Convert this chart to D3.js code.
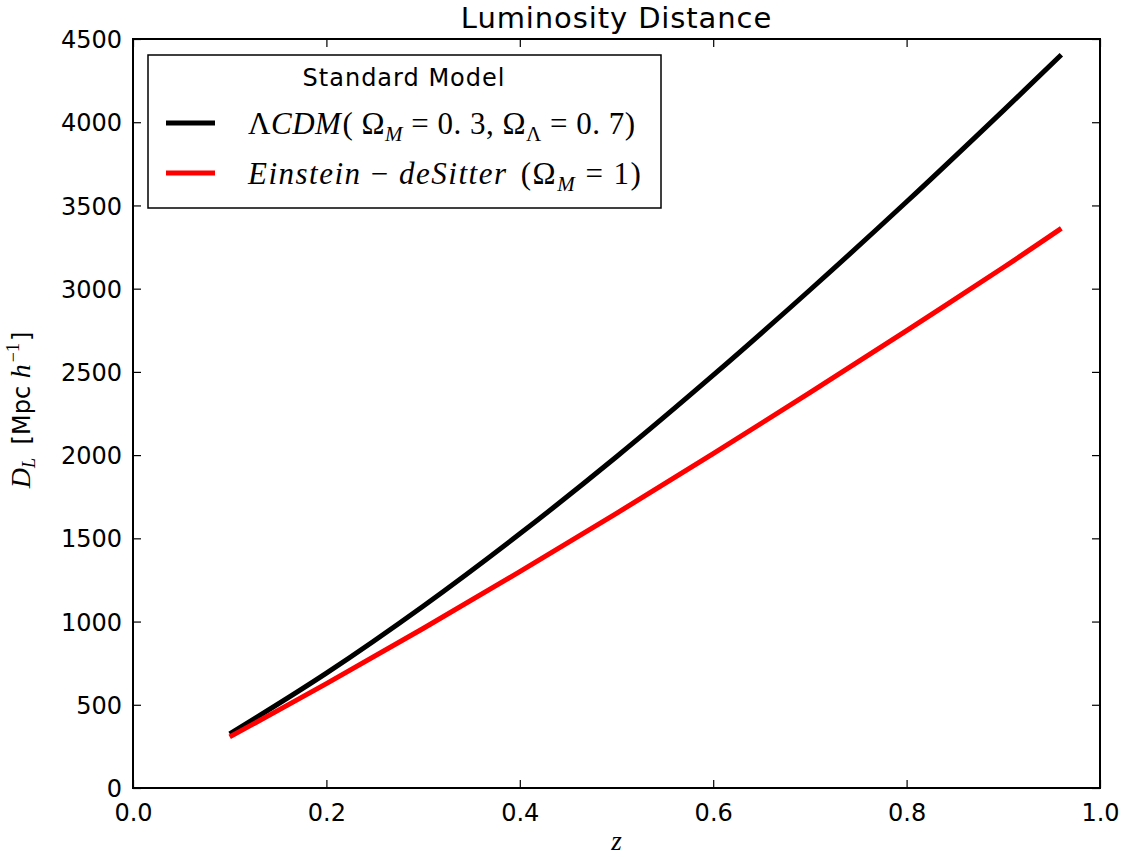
<!DOCTYPE html>
<html>
<head>
<meta charset="utf-8">
<script src="https://cdn.jsdelivr.net/npm/d3@7"></script>
<style>
  body { margin: 0; background: #fff; }
  svg text { fill: #000; }
  .tick-label { font-family: "DejaVu Sans", sans-serif; font-size: 24px; }
  .math { font-family: "Liberation Serif", "DejaVu Serif", serif; }
</style>
</head>
<body>
<div id="chart"></div>
<script>
// Data
const redshift = [0.1, 0.2, 0.3, 0.4, 0.5, 0.6, 0.7, 0.8, 0.9, 0.96];
const lcdmDist = [325, 690, 1092, 1527, 1990, 2480, 2992, 3522, 4070, 4405];
const edsDist  = [307, 627, 958, 1300, 1650, 2009, 2375, 2748, 3127, 3362];
const xTicks = [0.0, 0.2, 0.4, 0.6, 0.8, 1.0];
const yTicks = [0, 500, 1000, 1500, 2000, 2500, 3000, 3500, 4000, 4500];

const width = 1126,
    height = 857;
const margin = { top: 39, right: 26, bottom: 69, left: 133 };

const svg = d3.select("#chart")
    .append("svg")
    .attr("width", width)
    .attr("height", height);

const x = d3.scaleLinear().domain([0, 1]).range([margin.left, width - margin.right]);
const y = d3.scaleLinear().domain([0, 4500]).range([height - margin.bottom, margin.top]);

// Clip for the lines
svg.append("clipPath").attr("id", "plot-clip")
    .append("rect")
    .attr("x", x(0)).attr("y", y(4500))
    .attr("width", x(1) - x(0)).attr("height", y(0) - y(4500));

const line = d3.line()
    .x((d, i) => x(redshift[i]))
    .y(d => y(d))
    .curve(d3.curveCatmullRom);

// Curves (red drawn on top)
svg.append("path")
    .datum(lcdmDist)
    .attr("clip-path", "url(#plot-clip)")
    .attr("d", line)
    .attr("fill", "none")
    .attr("stroke", "#000")
    .attr("stroke-width", 5);

svg.append("path")
    .datum(edsDist)
    .attr("clip-path", "url(#plot-clip)")
    .attr("d", line)
    .attr("fill", "none")
    .attr("stroke", "#ff0000")
    .attr("stroke-width", 5);

// Axes, ticks pointing inward on all four sides
const tickLen = 8;
const axisBottom = d3.axisBottom(x).tickValues(xTicks).tickFormat(d3.format(".1f"))
    .tickSizeInner(-tickLen).tickSizeOuter(0).tickPadding(16);
const axisTop = d3.axisTop(x).tickValues(xTicks).tickFormat("")
    .tickSizeInner(-tickLen).tickSizeOuter(0);
const axisLeft = d3.axisLeft(y).tickValues(yTicks).tickFormat(d3.format("d"))
    .tickSizeInner(-tickLen).tickSizeOuter(0).tickPadding(11);
const axisRight = d3.axisRight(y).tickValues(yTicks).tickFormat("")
    .tickSizeInner(-tickLen).tickSizeOuter(0);

function styleAxis(g) {
    g.select(".domain").remove();
    g.selectAll(".tick line").attr("stroke", "#000").attr("stroke-width", 1.2);
    g.selectAll(".tick text")
        .attr("class", "tick-label")
        .attr("font-family", null)
        .attr("font-size", null)
        .attr("fill", "#000");
}

svg.append("g").attr("transform", `translate(0,${y(0)})`).call(axisBottom).call(styleAxis);
svg.append("g").attr("transform", `translate(0,${y(4500)})`).call(axisTop).call(styleAxis);
svg.append("g").attr("transform", `translate(${x(0)},0)`).call(axisLeft).call(styleAxis)
    .selectAll(".tick text").attr("dy", "0.36em");
svg.append("g").attr("transform", `translate(${x(1)},0)`).call(axisRight).call(styleAxis);

// Frame
svg.append("rect")
    .attr("x", x(0)).attr("y", y(4500))
    .attr("width", x(1) - x(0)).attr("height", y(0) - y(4500))
    .attr("fill", "none")
    .attr("stroke", "#000")
    .attr("stroke-width", 2);

// Title
svg.append("text")
    .attr("x", (x(0) + x(1)) / 2)
    .attr("y", 28)
    .attr("text-anchor", "middle")
    .style("font-family", "DejaVu Sans, sans-serif")
    .style("font-size", "29px")
    .style("letter-spacing", "0.9px")
    .text("Luminosity Distance");

// x label
svg.append("text")
    .attr("class", "math")
    .attr("x", (x(0) + x(1)) / 2)
    .attr("y", 850)
    .attr("text-anchor", "middle")
    .style("font-size", "27px")
    .style("font-style", "italic")
    .text("z");

// y label
const ylab = svg.append("text")
    .attr("transform", "translate(30,410) rotate(-90)")
    .attr("text-anchor", "middle")
    .style("font-family", "DejaVu Sans, sans-serif")
    .style("font-size", "24px");
ylab.append("tspan").attr("class", "math").style("font-style", "italic").style("font-size", "28px").text("D");
ylab.append("tspan").attr("class", "math").style("font-style", "italic").style("font-size", "18px").attr("dy", 5).text("L");
ylab.append("tspan").attr("dy", -5).attr("dx", 6).text(" [Mpc ");
ylab.append("tspan").attr("class", "math").style("font-style", "italic").style("font-size", "28px").text("h");
ylab.append("tspan").attr("class", "math").style("font-size", "18px").attr("dy", -11).attr("dx", 2).text("−1");
ylab.append("tspan").attr("dy", 11).attr("dx", 2).text("]");

// Legend
const legend = svg.append("g");
legend.append("rect")
    .attr("x", 148).attr("y", 55)
    .attr("width", 513).attr("height", 153)
    .attr("fill", "#fff")
    .attr("stroke", "#000")
    .attr("stroke-width", 1.5);

legend.append("text")
    .attr("x", 404).attr("y", 86)
    .attr("text-anchor", "middle")
    .style("font-family", "DejaVu Sans, sans-serif")
    .style("font-size", "24px")
    .style("letter-spacing", "1px")
    .text("Standard Model");

const legendItems = [
    { color: "#000", y: 123 },
    { color: "#ff0000", y: 173 }
];
legend.selectAll("line.key")
    .data(legendItems)
    .enter()
    .append("line")
    .attr("x1", 166).attr("x2", 215)
    .attr("y1", d => d.y).attr("y2", d => d.y)
    .attr("stroke", d => d.color)
    .attr("stroke-width", 5);

function mathLabel(yPos, spacing, parts) {
    const t = legend.append("text")
        .attr("class", "math")
        .attr("x", 248).attr("y", yPos)
        .style("font-size", "31px")
        .style("letter-spacing", spacing + "px");
    parts.forEach(p => {
        const s = t.append("tspan").text(p.t);
        if (p.i) s.style("font-style", "italic");
        if (p.sub) s.style("font-size", "21px").attr("dy", 7);
        if (p.back) s.attr("dy", -7);
        if (p.dx) s.attr("dx", p.dx);
    });
}

mathLabel(134, 0.5, [
    { t: "Λ" }, { t: "CDM", i: true }, { t: "( Ω", dx: 1 },
    { t: "M", i: true, sub: true }, { t: " = 0. 3, Ω", back: true },
    { t: "Λ", sub: true }, { t: " = 0. 7)", back: true }
]);
mathLabel(184, 1.5, [
    { t: "Einstein", i: true }, { t: " − " }, { t: "deSitter", i: true },
    { t: " (Ω", dx: 4 }, { t: "M", i: true, sub: true }, { t: " = 1)", back: true }
]);
</script>
</body>
</html>
